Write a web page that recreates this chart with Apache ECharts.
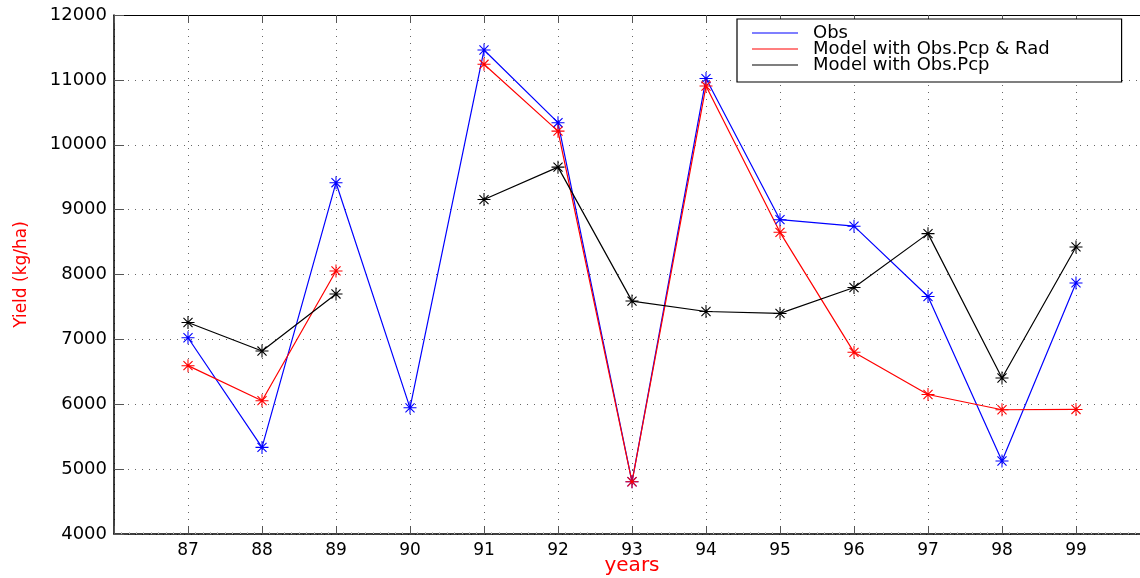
<!DOCTYPE html>
<html>
<head>
<meta charset="utf-8">
<script src="https://cdn.jsdelivr.net/npm/echarts@6/dist/echarts.min.js"></script>
<style>
  html, body { margin: 0; padding: 0; background: #fff; }
  #chart { width: 1140px; height: 578px; }
</style>
</head>
<body>
<div id="chart"></div>
<script>
const years = [87, 88, 89, 90, 91, 92, 93, 94, 95, 96, 97, 98, 99]
const obs = [7025, 5335, 9415, 5945, 11460, 10340, 4805, 11020, 8845, 8745, 7660, 5125, 7870]
const modelPcpRad = [6595, 6055, 8055, null, 11240, 10210, 4805, 10905, 8650, 6800, 6150, 5915, 5920]
const modelPcp = [7260, 6820, 7700, null, 9155, 9655, 7590, 7430, 7400, 7800, 8630, 6405, 8425]
const yTicks = [4000, 5000, 6000, 7000, 8000, 9000, 10000, 11000, 12000]

// matlab style '*' marker
const star = 'path://M0 46L100 46L100 54L0 54Z M46 0L54 0L54 100L46 100Z M12 18L18 12L88 82L82 88Z M82 12L88 18L18 88L12 82Z'
const font = 'DejaVu Sans'

function pairs(vals) {
  return years.map((y, i) => [y, vals[i]])
}

function lineSeries(name, vals, color) {
  return {
    name,
    type: 'line',
    data: pairs(vals),
    connectNulls: false,
    symbol: star,
    symbolSize: 13,
    itemStyle: { color },
    lineStyle: { color, width: 1.2 },
    animation: false,
  }
}

const chart = echarts.init(document.getElementById('chart'))
chart.setOption({
  backgroundColor: '#fff',
  grid: { left: 114, top: 15, bottom: 44, width: 1036, containLabel: false, outerBoundsMode: 'none' },
  legend: {
    left: 737,
    top: 19,
    orient: 'vertical',
    icon: 'rect',
    itemWidth: 46,
    itemHeight: 1,
    itemGap: -2,
    padding: [5, 72, 8, 15],
    borderColor: '#000',
    borderWidth: 1.2,
    backgroundColor: '#fff',
    textStyle: { fontFamily: font, fontSize: 18, color: '#000', lineHeight: 16, padding: [0, 0, 0, 10] },
    data: ['Obs', 'Model with Obs.Pcp & Rad', 'Model with Obs.Pcp'],
  },
  xAxis: [
    {
      type: 'value',
      min: 86,
      max: 100,
      interval: 1,
      name: 'years',
      nameLocation: 'middle',
      nameGap: 22,
      nameMoveOverlap: false,
      nameTextStyle: { color: '#ff0000', fontFamily: font, fontSize: 20 },
      axisLine: { lineStyle: { color: '#000', width: 1.5 } },
      axisTick: { inside: true, length: 8, lineStyle: { color: '#555' } },
      minorTick: { show: true, splitNumber: 10, length: 2, lineStyle: { color: '#bbb' } },
      axisLabel: {
        margin: 8,
        fontFamily: font,
        fontSize: 17,
        color: '#000',
        formatter: (v) => (years.includes(v) ? String(v) : ''),
      },
      splitLine: { show: true, lineStyle: { color: '#666', type: [1, 6], width: 1 } },
    },
    {
      type: 'value',
      position: 'top',
      min: 86,
      max: 100,
      interval: 1,
      axisLine: { lineStyle: { color: '#000', width: 1.2 } },
      axisTick: { inside: true, length: 8, lineStyle: { color: '#555' } },
      axisLabel: { show: false },
      splitLine: { show: false },
    },
  ],
  yAxis: {
    type: 'value',
    min: yTicks[0],
    max: yTicks[yTicks.length - 1],
    interval: 1000,
    name: 'Yield (kg/ha)',
    nameLocation: 'middle',
    nameGap: 84,
    nameMoveOverlap: false,
    nameTextStyle: { color: '#ff0000', fontFamily: font, fontSize: 17 },
    axisLine: { show: true, lineStyle: { color: '#000', width: 1.5 } },
    axisTick: { show: true, inside: true, length: 10, lineStyle: { color: '#555' } },
    axisLabel: { margin: 7, fontFamily: font, fontSize: 18, color: '#000', formatter: (v) => String(v) },
    splitLine: { show: true, lineStyle: { color: '#666', type: [1, 6], width: 1 } },
  },
  series: [
    lineSeries('Obs', obs, '#0000ff'),
    lineSeries('Model with Obs.Pcp & Rad', modelPcpRad, '#ff0000'),
    lineSeries('Model with Obs.Pcp', modelPcp, '#000000'),
  ],
})
</script>
</body>
</html>
